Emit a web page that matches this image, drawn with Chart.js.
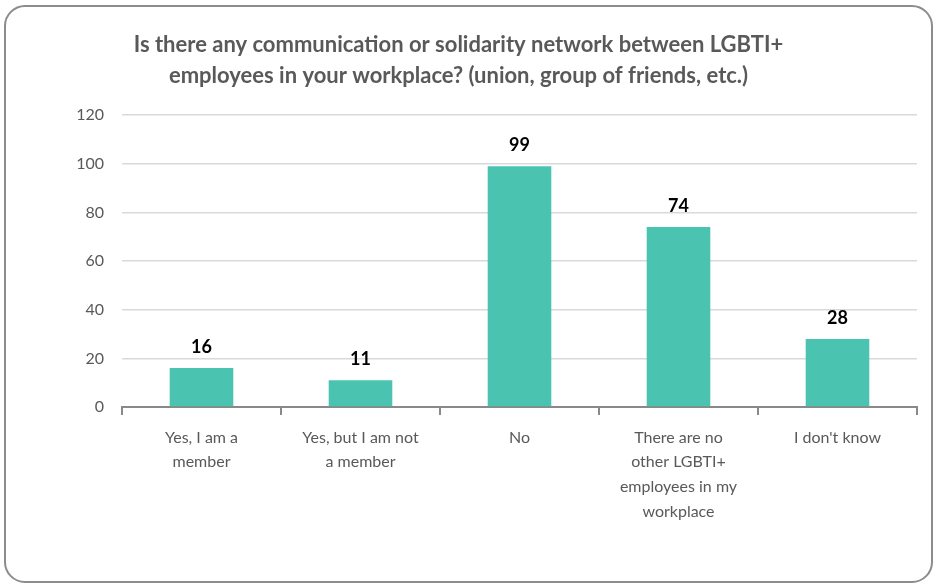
<!DOCTYPE html>
<html>
<head>
<meta charset="utf-8">
<script src="https://cdn.jsdelivr.net/npm/chart.js@4"></script>
<style>
  html, body { margin: 0; padding: 0; background: #fff; }
  #wrap { width: 936px; height: 587px; }
</style>
</head>
<body>
<div id="wrap"><canvas id="myChart" width="936" height="587"></canvas></div>
<script>
const titleLines = [
  'Is there any communication or solidarity network between LGBTI+',
  'employees in your workplace? (union, group of friends, etc.)'
]
const categories = [
  ['Yes, I am a', 'member'],
  ['Yes, but I am not', 'a member'],
  'No',
  ['There are no', 'other LGBTI+', 'employees in my', 'workplace'],
  "I don't know"
]
const counts = [16, 11, 99, 74, 28]
const yMax = 120
const yStep = 20

const grey = '#595959'

// rounded frame around the whole chart
const framePlugin = {
  id: 'frame',
  beforeDraw(chart) {
    const c = chart.ctx
    c.save()
    c.fillStyle = '#fff'
    c.fillRect(0, 0, chart.width, chart.height)
    c.strokeStyle = '#8c8c8c'
    c.lineWidth = 2
    c.beginPath()
    c.roundRect(5, 6, chart.width - 9, chart.height - 11, 20)
    c.stroke()
    c.restore()
  }
}

// value above each bar
const valuePlugin = {
  id: 'values',
  afterDatasetsDraw(chart) {
    const c = chart.ctx
    const meta = chart.getDatasetMeta(0)
    c.save()
    c.font = 'bold 18px Lato'
    c.fillStyle = '#000'
    c.textAlign = 'center'
    c.textBaseline = 'middle'
    meta.data.forEach((bar, i) => {
      c.fillText(counts[i], bar.x, bar.y - 21)
    })
    c.restore()
  }
}

const ctx = document.getElementById('myChart')

new Chart(ctx, {
  type: 'bar',
  data: {
    labels: categories,
    datasets: [{
      data: counts,
      backgroundColor: '#4AC4B0',
      categoryPercentage: 0.8,
      barPercentage: 0.5
    }]
  },
  options: {
    responsive: false,
    animation: false,
    layout: { padding: { top: 10, right: 19, bottom: 0, left: 0 } },
    plugins: {
      legend: { display: false },
      tooltip: { enabled: false },
      title: {
        display: true,
        text: titleLines,
        color: grey,
        font: { family: 'Lato', size: 22, weight: 'bold', lineHeight: 1.4 },
        padding: { top: 20, bottom: 23.5 }
      }
    },
    scales: {
      x: {
        grid: {
          offset: true,
          drawOnChartArea: false,
          color: '#898989',
          lineWidth: 2,
          tickLength: 8
        },
        border: { color: '#898989', width: 2 },
        ticks: {
          color: grey,
          font: { family: 'Lato', size: 16, lineHeight: 1.55 },
          maxRotation: 0,
          padding: 10
        },
        afterFit(scale) { scale.height = 180 }
      },
      y: {
        min: 0,
        max: yMax,
        ticks: {
          stepSize: yStep,
          color: grey,
          font: { family: 'Lato', size: 16 },
          padding: 18
        },
        grid: { color: '#d9d9d9', lineWidth: 1.5, drawTicks: false },
        border: { display: false },
        afterFit(scale) { scale.width = 122 }
      }
    }
  },
  plugins: [framePlugin, valuePlugin]
})
</script>
</body>
</html>
